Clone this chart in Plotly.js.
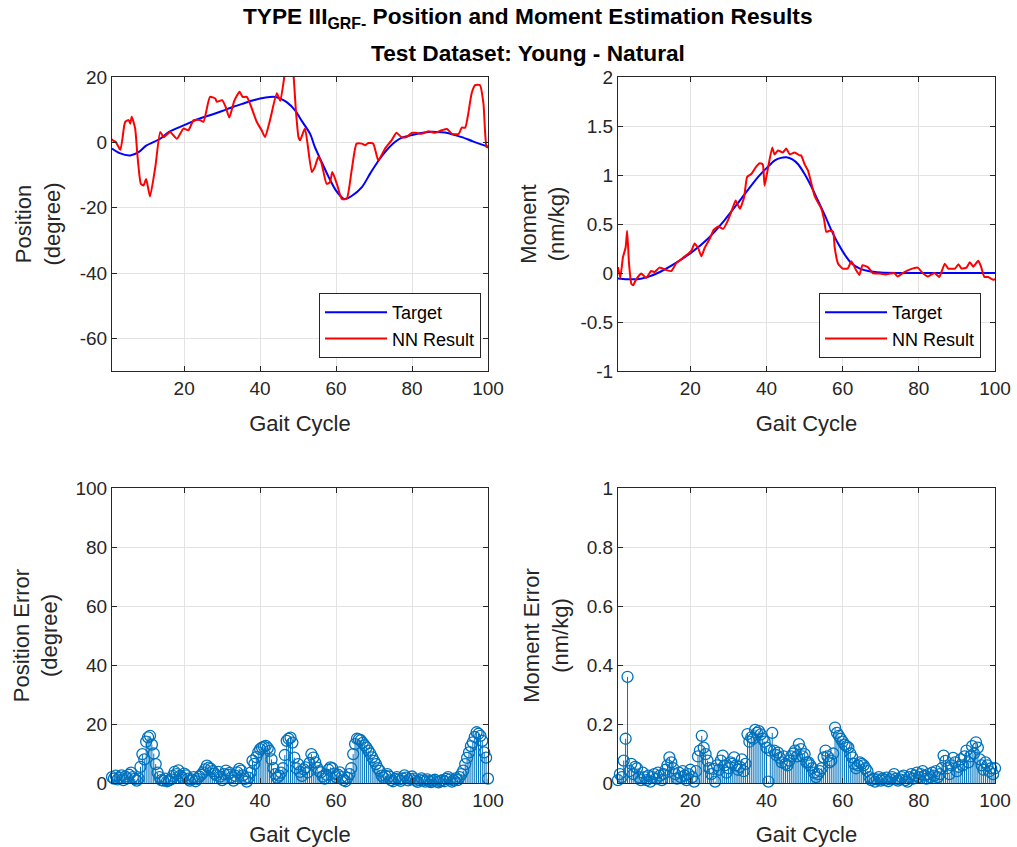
<!DOCTYPE html>
<html>
<head>
<meta charset="utf-8">
<script src="https://cdn.plot.ly/plotly-3.0.1.min.js"></script>
<style>
  html, body { margin: 0; padding: 0; background: #ffffff; }
  #chart { width: 1017px; height: 847px; }
</style>
</head>
<body>
<div id="chart"></div>
<script>
// ---- Position (degree) over the gait cycle ----
const posTargetX = [1, 3, 5.8, 8, 10, 13.7, 16, 20.3, 23, 26.8, 30, 33, 35.6, 38, 40, 42.6, 44, 45.3, 47, 49.2, 51, 53.2, 54.4, 56, 58, 60, 61.9, 62.5, 64, 66.8, 69, 71.1, 73, 75.5, 77.5, 79.9, 82, 84.3, 86.5, 88.7, 91, 93.1, 96, 99.2, 100];
const posTargetY = [-1.9, -3.3, -4.0, -3.0, -1.0, 1.1, 3.2, 5.4, 6.8, 8.3, 9.6, 10.9, 11.9, 12.8, 13.4, 13.9, 13.9, 13.4, 12.3, 9.8, 6.5, 2.5, -1.4, -5.5, -10.5, -14.8, -17.2, -17.3, -16.5, -13.7, -9.5, -5.7, -2.8, 0.1, 1.5, 2.2, 2.8, 3.2, 3.2, 3.0, 2.3, 1.6, 0.3, -1.0, -1.3];

const posNNX = [1, 1.2, 2.0, 3.2, 4.2, 4.5, 5.4, 5.8, 6.2, 7.1, 7.7, 8.6, 9.3, 10.0, 11.0, 12.4, 13.7, 14.6, 16.3, 18.1, 19.8, 21.1, 22.5, 24.2, 25.1, 26.8, 28.2, 28.6, 30.0, 30.9, 31.9, 33.2, 34.6, 35.4, 36.5, 39.1, 40.4, 41.3, 42.6, 44.4, 45.3, 46.6, 47.5, 48.4, 48.9, 49.4, 50.1, 50.5, 51.8, 53.6, 54.4, 55.3, 56.1, 57.5, 58.4, 59.0, 60.2, 61.5, 62.8, 64.1, 65.4, 66.8, 67.7, 68.5, 69.8, 71.1, 72.9, 74.6, 75.9, 77.2, 78.5, 79.9, 81.0, 82.5, 84.3, 86.0, 87.8, 89.2, 90.5, 92.3, 93.1, 94.0, 94.8, 95.7, 96.6, 97.9, 98.8, 99.6, 100];
const posNNY = [1.0, 0.6, 0.1, -2.3, 5.0, 6.3, 6.8, 5.7, 7.8, 4.2, -4.0, -12.7, -13.2, -11.2, -16.6, -7.6, 3.2, 1.6, 3.2, 1.1, 4.2, 3.7, 6.8, 6.8, 6.3, 13.9, 13.4, 12.4, 12.9, 10.9, 7.6, 12.7, 15.5, 13.9, 13.9, 6.3, 3.7, 1.6, 6.8, 15.0, 12.7, 22.0, 27.0, 25.0, 19.0, 10.0, 1.6, 0.6, 4.2, -9.1, -7.6, -4.5, -6.1, -12.7, -12.2, -9.1, -12.7, -17.3, -17.3, -8.6, -0.4, -0.4, -0.9, -0.2, -0.4, -5.5, -1.9, 0.6, 2.9, 1.6, 1.6, 2.9, 2.9, 2.6, 3.4, 2.9, 3.7, 4.1, 2.6, 2.6, 4.5, 4.5, 8.8, 15.0, 17.5, 17.5, 11.9, -1.4, -1.6];

// ---- Moment (nm/kg) over the gait cycle ----
const momTargetX = [1, 3, 4.5, 7, 8.9, 12, 15.9, 20.3, 24.6, 29, 33.4, 37.8, 40, 42.2, 43.8, 45.2, 46.8, 48.3, 50, 51.8, 53.5, 55.3, 57, 58.8, 60.5, 62.3, 64.5, 66.7, 70, 75, 80, 90, 100];
const momTargetY = [-0.057, -0.063, -0.065, -0.058, -0.04, 0.01, 0.095, 0.21, 0.35, 0.54, 0.76, 0.98, 1.07, 1.15, 1.175, 1.18, 1.16, 1.11, 1.01, 0.88, 0.74, 0.59, 0.44, 0.30, 0.19, 0.10, 0.045, 0.02, 0.005, 0.0, 0.0, 0.0, 0.0];

const momNNX = [1.0, 1.6, 2.3, 3.0, 3.4, 3.9, 4.5, 5.0, 5.7, 7.1, 8.4, 9.7, 10.6, 11.9, 13.7, 15.0, 16.3, 17.6, 18.9, 20.3, 21.1, 22.0, 22.9, 23.8, 25.1, 26.1, 27.3, 28.6, 29.9, 30.8, 31.9, 33.0, 34.1, 34.9, 36.0, 37.2, 38.2, 39.0, 39.5, 40.1, 41.5, 42.1, 43.0, 44.3, 45.2, 46.1, 47.4, 48.7, 49.1, 50.0, 50.9, 51.8, 52.6, 53.5, 54.4, 55.1, 55.7, 56.6, 57.5, 57.9, 58.8, 60.0, 61.3, 62.3, 63.5, 64.4, 65.2, 66.6, 67.9, 69.6, 71.3, 73.5, 74.4, 76.2, 77.9, 79.7, 81.0, 82.4, 84.1, 85.4, 86.8, 87.7, 89.5, 90.4, 91.2, 92.5, 93.4, 94.3, 95.6, 96.3, 97.2, 98.2, 99.6, 100];
const momNNY = [0.06, -0.05, 0.16, 0.26, 0.43, 0.095, -0.11, -0.125, -0.07, -0.006, -0.05, 0.02, 0.01, 0.055, 0.03, 0.02, 0.10, 0.14, 0.18, 0.23, 0.30, 0.26, 0.17, 0.26, 0.35, 0.44, 0.475, 0.45, 0.54, 0.63, 0.74, 0.655, 0.77, 0.98, 1.01, 1.08, 1.12, 1.11, 0.89, 1.01, 1.28, 1.21, 1.25, 1.23, 1.27, 1.21, 1.23, 1.20, 1.20, 1.11, 1.045, 0.91, 0.79, 0.72, 0.655, 0.55, 0.42, 0.43, 0.42, 0.26, 0.095, 0.045, 0.045, 0.12, 0.03, -0.02, 0.08, 0.06, 0.0, -0.005, -0.015, 0.0, -0.035, 0.01, 0.04, 0.055, 0.0, -0.035, 0.0, -0.04, 0.095, 0.045, 0.045, 0.09, 0.045, 0.055, 0.11, 0.065, 0.125, 0.07, -0.04, -0.04, -0.07, -0.06];

// ---- Absolute errors, sampled every half percent of the gait cycle (x = 1 ... 100) ----
const gaitGrid = Array.from({ length: 199 }, (_, i) => 1 + i * 0.5);

const posError = [
  2.0, 1.5, 2.5, 1.2, 1.8, 2.6, 1.0, 2.2, 1.6, 2.8, 3.5, 2.0, 1.4, 0.8, 1.5,
  5.5, 9.8, 8.0, 14.0, 15.5, 16.0, 13.0, 10.0, 6.4, 3.5, 2.0, 1.0, 0.8,
  1.5, 0.6, 0.9, 1.2, 2.4, 3.8, 3.0, 4.3, 2.5, 1.8, 3.2, 2.6, 1.5, 0.8, 1.2, 2.0, 0.6, 1.4, 2.2, 2.8, 3.6, 4.6,
  5.9, 5.2, 4.8, 4.0, 3.2, 2.6, 3.8, 2.2, 1.0, 3.0, 4.2, 2.8, 3.4, 2.0, 0.8, 2.4, 3.6, 4.8, 4.2, 2.6, 1.4, 0.5, 1.8,
  3.5, 7.6, 6.5, 8.8, 10.4, 11.5, 12.0, 12.3, 12.6, 11.8, 10.9, 8.0, 5.0, 3.0, 1.8, 2.5, 3.5, 5.0, 9.5,
  14.3, 15.0, 15.4, 13.7, 8.6, 5.0, 6.4, 3.8, 2.4, 4.6, 5.3, 3.6, 6.8, 9.8, 8.6, 7.0, 5.2, 4.0, 3.6, 2.2, 1.5, 2.8,
  4.5, 5.3, 5.0, 3.2, 2.0, 2.8, 3.6, 2.0, 1.0, 0.6, 1.8, 3.0, 5.0, 9.8, 13.2, 15.0, 14.8, 14.5, 13.6, 12.8, 12.0,
  11.0, 10.0, 8.7, 7.5, 6.4, 5.0, 4.1, 2.5, 1.8, 2.4, 3.0, 2.2, 1.0, 0.6, 1.4, 2.0, 1.2, 0.7, 1.6, 2.6, 1.8, 0.9,
  1.4, 2.2, 1.5, 0.8, 0.4, 1.0, 1.6, 0.9, 0.5, 1.2, 0.6, 0.3, 0.8, 1.1, 0.5, 0.2, 0.7, 1.0, 0.6, 1.4, 2.0, 1.2,
  0.5, 0.9, 1.6, 1.0, 2.0, 3.0, 4.2, 6.4, 8.5, 10.4, 12.5, 13.8, 15.6, 17.2, 16.7, 16.0, 14.3, 10.4, 8.6, 1.5
];

const momError = [
  0.01, 0.03, 0.02, 0.076, 0.15, 0.36, 0.04, 0.065, 0.03, 0.055,      // 1 - 5.5
  0.05, 0.02, 0.01, 0.035, 0.02, 0.01, 0.025, 0.005, 0.02, 0.03,      // 6 - 10.5
  0.015, 0.035, 0.025, 0.01, 0.03, 0.045, 0.06, 0.087, 0.07, 0.05,    // 11 - 15.5
  0.03, 0.015, 0.035, 0.02, 0.04, 0.025, 0.01, 0.03, 0.045, 0.02,     // 16 - 20.5
  0.005, 0.04, 0.09, 0.11, 0.16, 0.12, 0.098, 0.076, 0.05, 0.03,      // 21 - 25.5
  0.048, 0.005, 0.06, 0.045, 0.076, 0.093, 0.06, 0.035, 0.05, 0.07,   // 26 - 30.5
  0.065, 0.087, 0.06, 0.045, 0.055, 0.08, 0.04, 0.065, 0.166, 0.14,   // 31 - 35.5
  0.155, 0.15, 0.18, 0.17, 0.176, 0.165, 0.15, 0.14, 0.12, 0.005,     // 36 - 40.5
  0.11, 0.17, 0.11, 0.095, 0.103, 0.085, 0.07, 0.09, 0.065, 0.06,     // 41 - 45.5
  0.076, 0.09, 0.1, 0.11, 0.09, 0.132, 0.115, 0.09, 0.098, 0.07,      // 46 - 50.5
  0.07, 0.06, 0.05, 0.035, 0.02, 0.03, 0.04, 0.05, 0.087, 0.11,       // 51 - 55.5
  0.09, 0.07, 0.076, 0.1, 0.188, 0.17, 0.16, 0.15, 0.14, 0.13,        // 56 - 60.5
  0.125, 0.12, 0.1, 0.087, 0.065, 0.05, 0.06, 0.07, 0.065, 0.06,      // 61 - 65.5
  0.05, 0.04, 0.02, 0.01, 0.015, 0.005, 0.012, 0.02, 0.008, 0.015,    // 66 - 70.5
  0.01, 0.018, 0.006, 0.012, 0.02, 0.03, 0.015, 0.008, 0.012, 0.02,   // 71 - 75.5
  0.025, 0.01, 0.005, 0.02, 0.03, 0.015, 0.025, 0.035, 0.02, 0.03,    // 76 - 80.5
  0.04, 0.025, 0.015, 0.03, 0.02, 0.035, 0.025, 0.04, 0.02, 0.03,     // 81 - 85.5
  0.05, 0.093, 0.075, 0.05, 0.03, 0.06, 0.085, 0.07, 0.04, 0.055,     // 86 - 90.5
  0.08, 0.06, 0.09, 0.11, 0.07, 0.09, 0.125, 0.1, 0.138, 0.12,        // 91 - 95.5
  0.08, 0.06, 0.045, 0.07, 0.06, 0.04, 0.05, 0.03, 0.05               // 96 - 100
];

// ---- Labels ----
const xTickVals = [20, 40, 60, 80, 100];
const posTicks = [-60, -40, -20, 0, 20];
const posTickText = ['-60', '-40', '-20', '0', '20'];
const momTicks = [-1, -0.5, 0, 0.5, 1, 1.5, 2];
const momTickText = ['-1', '-0.5', '0', '0.5', '1', '1.5', '2'];
const posErrTicks = [0, 20, 40, 60, 80, 100];
const momErrTicks = [0, 0.2, 0.4, 0.6, 0.8, 1];
const momErrTickText = ['0', '0.2', '0.4', '0.6', '0.8', '1'];

const FONT = 'Liberation Sans, Arial, Helvetica, sans-serif';
const INK = '#262626';
const GRID = '#e3e3e3';
const STEM = '#0072BD';

function axis(extra) {
  return Object.assign({
    showline: true, mirror: 'ticks', linecolor: INK, linewidth: 1,
    ticks: 'inside', ticklen: 5, tickcolor: INK, tickwidth: 1,
    showgrid: true, gridcolor: GRID, gridwidth: 1, zeroline: false,
    tickfont: { family: FONT, size: 19, color: INK },
    fixedrange: true
  }, extra);
}
function xTitle() {
  return { text: 'Gait Cycle', font: { family: FONT, size: 22, color: INK }, standoff: 17 };
}
function yTitle(t, gap) {
  return { text: t, font: { family: FONT, size: 22, color: INK }, standoff: gap };
}

const traces = [
  { x: posTargetX, y: posTargetY, type: 'scatter', mode: 'lines', name: 'Target',
    line: { color: '#0000ff', width: 2, shape: 'spline', smoothing: 0.8 }, xaxis: 'x', yaxis: 'y', legend: 'legend' },
  { x: posNNX, y: posNNY, type: 'scatter', mode: 'lines', name: 'NN Result',
    line: { color: '#ff0000', width: 2, shape: 'spline', smoothing: 0.5 }, xaxis: 'x', yaxis: 'y', legend: 'legend' },
  { x: momTargetX, y: momTargetY, type: 'scatter', mode: 'lines', name: 'Target',
    line: { color: '#0000ff', width: 2, shape: 'spline', smoothing: 0.8 }, xaxis: 'x2', yaxis: 'y2', legend: 'legend2' },
  { x: momNNX, y: momNNY, type: 'scatter', mode: 'lines', name: 'NN Result',
    line: { color: '#ff0000', width: 2, shape: 'spline', smoothing: 0.4 }, xaxis: 'x2', yaxis: 'y2', legend: 'legend2' },
  { x: gaitGrid, y: posError, type: 'scatter', mode: 'markers', showlegend: false,
    marker: { symbol: 'circle-open', size: 11, color: STEM, line: { width: 1.3, color: STEM } },
    error_y: { type: 'data', symmetric: false, array: posError.map(() => 0), arrayminus: posError,
               width: 0, thickness: 1, color: STEM },
    xaxis: 'x3', yaxis: 'y3', cliponaxis: false },
  { x: gaitGrid, y: momError, type: 'scatter', mode: 'markers', showlegend: false,
    marker: { symbol: 'circle-open', size: 11, color: STEM, line: { width: 1.3, color: STEM } },
    error_y: { type: 'data', symmetric: false, array: momError.map(() => 0), arrayminus: momError,
               width: 0, thickness: 1, color: STEM },
    xaxis: 'x4', yaxis: 'y4', cliponaxis: false }
];

const W = 1017, H = 847;
const leftDom = [112 / W, 488 / W];
const rightDom = [618 / W, 995 / W];
const topDom = [1 - 371 / H, 1 - 77 / H];
const botDom = [1 - 783 / H, 1 - 488 / H];

const legendStyle = {
  bgcolor: '#ffffff', bordercolor: INK, borderwidth: 1,
  font: { family: FONT, size: 18, color: '#000000' },
  xanchor: 'right', yanchor: 'top', tracegroupgap: 0, itemwidth: 62
};

const layout = {
  width: W, height: H,
  paper_bgcolor: '#ffffff', plot_bgcolor: '#ffffff',
  margin: { l: 0, r: 0, t: 0, b: 0 },
  font: { family: FONT, color: INK },
  xaxis: axis({ domain: leftDom, range: [1, 100], tickvals: xTickVals, anchor: 'y', title: xTitle() }),
  yaxis: axis({ domain: topDom, range: [-70, 20], tickvals: posTicks, ticktext: posTickText, anchor: 'x', title: yTitle('Position<br>(degree)', 13) }),
  xaxis2: axis({ domain: rightDom, range: [1, 100], tickvals: xTickVals, anchor: 'y2', title: xTitle() }),
  yaxis2: axis({ domain: topDom, range: [-1, 2], tickvals: momTicks, ticktext: momTickText, anchor: 'x2', title: yTitle('Moment<br>(nm/kg)', 9) }),
  xaxis3: axis({ domain: leftDom, range: [1, 100], tickvals: xTickVals, anchor: 'y3', title: xTitle() }),
  yaxis3: axis({ domain: botDom, range: [0, 100], tickvals: posErrTicks, anchor: 'x3', title: yTitle('Position Error<br>(degree)', 11) }),
  xaxis4: axis({ domain: rightDom, range: [1, 100], tickvals: xTickVals, anchor: 'y4', title: xTitle() }),
  yaxis4: axis({ domain: botDom, range: [0, 1], tickvals: momErrTicks, ticktext: momErrTickText, anchor: 'x4', title: yTitle('Moment Error<br>(nm/kg)', 12) }),
  legend: Object.assign({ x: 481 / W, y: 1 - 293 / H }, legendStyle),
  legend2: Object.assign({ x: 981 / W, y: 1 - 293 / H }, legendStyle),
  showlegend: true,
  annotations: [
    { text: '<b>TYPE III<sub>GRF-</sub> Position and Moment Estimation Results</b>',
      xref: 'paper', yref: 'paper', x: 528 / W, y: 1 - 18 / H, xanchor: 'center', yanchor: 'middle',
      showarrow: false, borderpad: 0, font: { family: FONT, size: 22.7, color: '#000000' } },
    { text: '<b>Test Dataset: Young - Natural</b>',
      xref: 'paper', yref: 'paper', x: 528 / W, y: 1 - 53 / H, xanchor: 'center', yanchor: 'middle',
      showarrow: false, borderpad: 0, font: { family: FONT, size: 22.7, color: '#000000' } }
  ]
};

Plotly.newPlot('chart', traces, layout, { displayModeBar: false, staticPlot: true });
</script>
</body>
</html>
